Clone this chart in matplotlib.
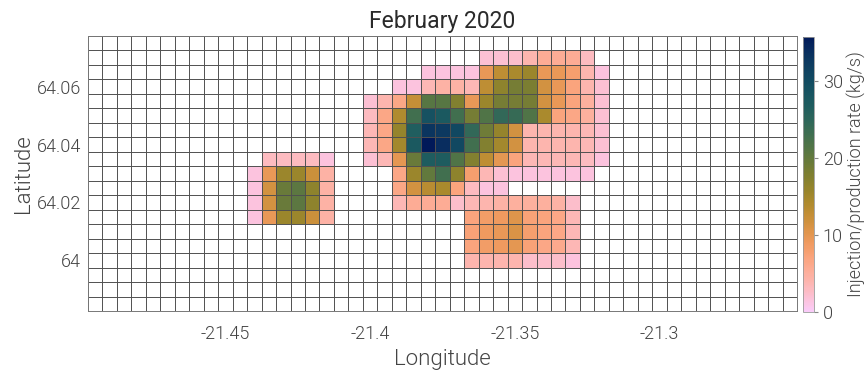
import matplotlib
matplotlib.use('Agg')
import matplotlib.pyplot as plt
import numpy as np
from matplotlib.colors import LinearSegmentedColormap
from matplotlib.ticker import FuncFormatter

plt.rcParams['font.family'] = ['Roboto', 'DejaVu Sans']
plt.rcParams['font.weight'] = 300
plt.rcParams['axes.titleweight'] = 'normal'
plt.rcParams['axes.labelweight'] = 300
plt.rcParams['axes.unicode_minus'] = False

# grid cell centres (degrees)
lon = np.round(np.arange(-21.495, -21.2525, 0.005), 4)   # 49 columns
lat = np.round(np.arange(64.075, 63.9825, -0.005), 4)    # 19 rows, top to bottom

# injection/production rate (kg/s): row index (from top) -> (first column, values)
rate_rows = {
    1:  (27, [2, 2, 2.5, 4, 5.5, 5.5, 5.5, 3]),
    2:  (23, [1.5, 1.5, 1.5, 1.5, 9.5, 13, 14.5, 15.5, 9.5, 9.5, 8, 4, 1.5]),
    3:  (21, [1.5, 1.5, 3.5, 4.5, 4.5, 3.5, 13, 16.5, 18.5, 18, 11.5, 9.5, 7, 4, 2]),
    4:  (19, [2, 4, 6.5, 12.5, 21, 21, 17.5, 9.5, 15.5, 18.5, 18.5, 18.5, 11.5, 9.5, 7, 5, 2]),
    5:  (19, [3, 6.5, 14, 23, 29, 27.5, 23, 18.5, 21.5, 24.5, 24, 21.5, 14.5, 7, 6.5, 5, 2]),
    6:  (19, [3.5, 6.5, 16, 26.5, 33, 32.5, 30.5, 24.5, 19, 16, 11.5, 4, 4, 4, 4, 3.5, 2]),
    7:  (19, [3.5, 6.5, 15, 27.5, 35.7, 34, 30.5, 23, 17.5, 15, 11.5, 4, 4, 4, 4, 3.5, 2]),
    8:  (11, [0, 3, 3, 3, 3, 1.5, 0, 0,
              2, 3.5, 10, 19.5, 27, 27, 21.5, 17.5, 13, 10, 7, 3.5, 3.5, 3.5, 3.5, 3, 1.5]),
    9:  (11, [1.5, 9.5, 15.5, 15.5, 12, 4.5, 0, 0, 0, 0,
              6.5, 15.5, 20, 23, 16.5, 8, 3.5, 2, 1.5, 1.5, 1.5, 1.5, 1.5, 1.5]),
    10: (11, [1.5, 11.5, 19.5, 20.5, 16.5, 4.5, 0, 0, 0, 0,
              6.5, 11.5, 13.5, 14.5, 7, 3, 1.5, 1.5]),
    11: (11, [1.5, 11.5, 19.5, 20.5, 16.5, 4.5, 0, 0, 0, 0,
              3.5, 5.5, 5.5, 5.5, 2.5, 3.5, 4, 4.5, 5, 5, 5, 4.5, 2.5]),
    12: (11, [1.5, 9.5, 15.5, 15.5, 12, 4.5, 0, 0, 0, 0, 0, 0, 0, 0, 0,
              7, 8.5, 9, 10.5, 7.5, 7, 6.5, 3.5]),
    13: (26, [7.5, 9, 9.5, 11, 8, 7, 6.5, 3.5]),
    14: (26, [7, 8.5, 9, 10, 7.5, 6.5, 6, 3.5]),
    15: (26, [4, 4, 4, 4, 2.5, 2.5, 2.5, 1.5]),
}

vmax = 35.7
cbar_ticks = [0, 10, 20, 30]
x_ticks = [-21.45, -21.4, -21.35, -21.3]
y_ticks = [64, 64.02, 64.04, 64.06]

rate = np.full((len(lat), len(lon)), np.nan)
for r, (c0, vals) in rate_rows.items():
    for k, v in enumerate(vals):
        if v > 0:
            rate[r, c0 + k] = v

# batlow-like colours, low value = light pink, high value = dark blue
cmap = LinearSegmentedColormap.from_list('batlow_r', [
    '#faccfa', '#fcc1d6', '#fdb7b4', '#fdad97', '#faa37b', '#ef9a5f',
    '#dc9448', '#c58f37', '#ac8a2d', '#94842c', '#7e7f31', '#677a3b',
    '#527546', '#3e6e51', '#2d665a', '#1f5d5f', '#175461', '#114961',
    '#0e3d60', '#092e5f', '#011959'])
cmap.set_bad('white')

fig = plt.figure(figsize=(8.65, 3.76), dpi=100)
ax = fig.add_axes([0.1017, 0.1729, 0.8197, 0.7314])
cax = fig.add_axes([0.928, 0.170, 0.0127, 0.732])

dx, dy = 0.005, 0.005
lon_edges = np.append(lon - dx / 2, lon[-1] + dx / 2)
lat_edges = np.append(lat + dy / 2, lat[-1] - dy / 2)
mesh = ax.pcolormesh(lon_edges, lat_edges, np.ma.masked_invalid(rate),
                     cmap=cmap, vmin=0, vmax=vmax, linewidth=0)
# cell outlines
ax.vlines(lon_edges, lat_edges[-1], lat_edges[0], color='#505050', linewidth=0.7)
ax.hlines(lat_edges, lon_edges[0], lon_edges[-1], color='#505050', linewidth=0.7)
ax.set_xlim(lon_edges[0], lon_edges[-1])
ax.set_ylim(lat_edges[-1], lat_edges[0])

txt = '#444444'
fmt = FuncFormatter(lambda v, p: '%g' % round(v, 4))
ax.set_xticks(x_ticks)
ax.set_yticks(y_ticks)
ax.xaxis.set_major_formatter(fmt)
ax.yaxis.set_major_formatter(fmt)
ax.tick_params(axis='x', length=0, labelsize=13, labelcolor=txt, pad=10)
ax.tick_params(axis='y', length=0, labelsize=13, labelcolor=txt, pad=5)
for s in ax.spines.values():
    s.set_color('#777777')
    s.set_linewidth(0.7)

ax.set_xlabel('Longitude', fontsize=16, color=txt)
ax.xaxis.set_label_coords(0.5, -0.14)
ax.set_ylabel('Latitude', fontsize=16, color=txt, labelpad=2)
ax.set_title('February 2020', fontsize=16.5, color='#2a2a2a', pad=6)

cb = fig.colorbar(mesh, cax=cax, ticks=cbar_ticks)
cb.outline.set_edgecolor('#999999')
cb.outline.set_linewidth(0.6)
cb.ax.tick_params(labelsize=13, labelcolor=txt, length=3, color='#888888')
cb.set_label('Injection/production rate (kg/s)', fontsize=13, color=txt,
             labelpad=3)

fig.savefig('out.png', dpi=100)
